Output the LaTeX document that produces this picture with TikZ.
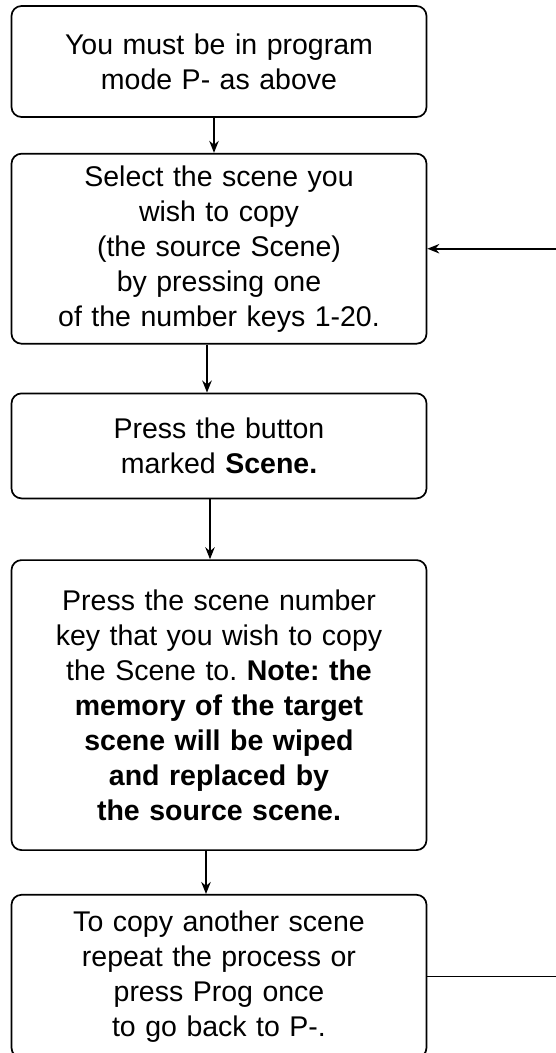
\documentclass[tikz,border=0pt]{standalone}
\usepackage{fontspec}
\setmainfont{Liberation Sans}
\usetikzlibrary{shapes,arrows.meta,positioning,calc}
\frenchspacing

\begin{document}
\begin{tikzpicture}[
    x=1pt, y=1pt,
    stepbox/.style={rectangle, draw, rounded corners=10pt, line width=1.7pt,
        text width=395pt, inner sep=10pt, align=center,
        font=\fontsize{28.5}{35}\selectfont},
    arrow/.style={-{Stealth[length=12pt,width=9.5pt]}, line width=1.6pt}
]
\useasboundingbox (0,0) rectangle (555,-1053);

% Steps
\node[stepbox, minimum height=111pt] (mode) at (219,-61.5) {You must be in program\\mode P- as above};
\node[stepbox, minimum height=190pt, below=35pt of mode] (source) {Select the scene you\\wish to copy\\(the source Scene)\\by pressing one\\of the number keys 1-20.};
\node[stepbox, minimum height=105pt, below=48pt of source] (button) {Press the button\\marked \textbf{Scene.}};
\node[stepbox, minimum height=290pt, below=60pt of button] (target) {Press the scene number\\key that you wish to copy\\the Scene to. \textbf{Note: the}\\\textbf{memory of the target}\\\textbf{scene will be wiped}\\\textbf{and replaced by}\\\textbf{the source scene.}};
\node[stepbox, minimum height=163pt, below=43pt of target] (repeat) {To copy another scene\\repeat the process or\\press Prog once\\to go back to P-.};

% Flow
\draw[arrow] ([xshift=-5pt]mode.south) -- ([xshift=-5pt]source.north);
\draw[arrow] ([xshift=-12pt]source.south) -- ([xshift=-12pt]button.north);
\draw[arrow] ([xshift=-9pt]button.south) -- ([xshift=-9pt]target.north);
\draw[arrow] ([xshift=-13pt]target.south) -- ([xshift=-13pt]repeat.north);

% Loop back
\coordinate (loopright) at (562,0);
\draw[arrow] (repeat.east) -- (repeat.east -| loopright) -- (source.east -| loopright) -- (source.east);

\end{tikzpicture}
\end{document}
